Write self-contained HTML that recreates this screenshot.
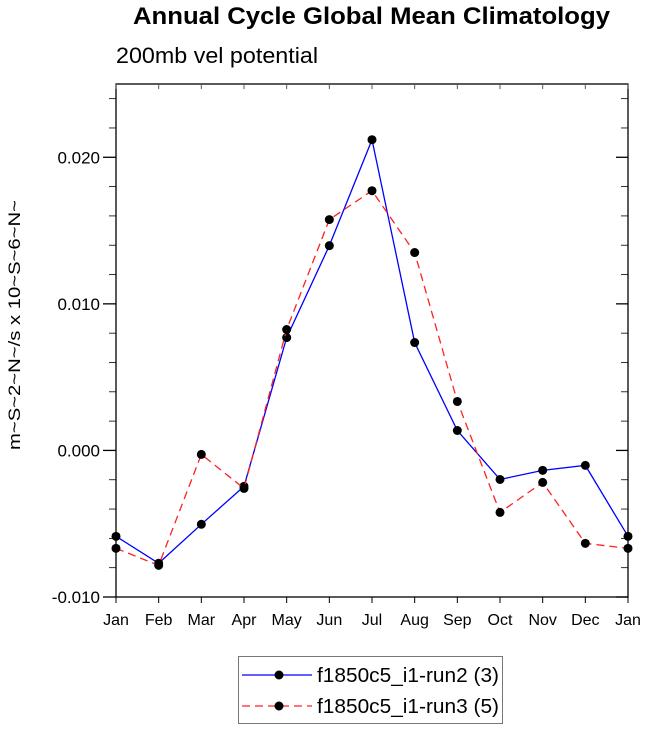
<!DOCTYPE html>
<html><head><meta charset="utf-8"><style>
body{margin:0;background:#fff;font-family:"Liberation Sans",sans-serif}
</style></head><body>
<svg id="chart" width="647" height="731" xmlns="http://www.w3.org/2000/svg" font-family="Liberation Sans, sans-serif">
<text x="133" y="24" font-size="24" font-weight="bold" textLength="477" lengthAdjust="spacingAndGlyphs">Annual Cycle Global Mean Climatology</text>
<text x="116" y="63" font-size="22" textLength="202" lengthAdjust="spacingAndGlyphs">200mb vel potential</text>
<text transform="translate(20,450) rotate(-90)" font-size="17" textLength="250" lengthAdjust="spacingAndGlyphs">m~S~2~N~/s x 10~S~6~N~</text>
<g id="axes"></g>
<g id="series"></g>
<g>
<rect x="238.5" y="656.5" width="264" height="67" fill="none" stroke="#777" stroke-width="1"/>
<line x1="242" y1="675" x2="312" y2="675" stroke="#0000ff" stroke-width="1.3"/>
<circle cx="279" cy="675" r="4.5" fill="#000"/>
<text x="317" y="682" font-size="20" textLength="182" lengthAdjust="spacingAndGlyphs">f1850c5_i1-run2 (3)</text>
<line x1="242" y1="706" x2="312" y2="706" stroke="#ff2020" stroke-width="1.3" stroke-dasharray="8,5"/>
<circle cx="279" cy="706" r="4.5" fill="#000"/>
<text x="317" y="713" font-size="20" textLength="182" lengthAdjust="spacingAndGlyphs">f1850c5_i1-run3 (5)</text>
</g>
</svg>
<script>
const months=["Jan","Feb","Mar","Apr","May","Jun","Jul","Aug","Sep","Oct","Nov","Dec","Jan"];
const run2=[-0.00586,-0.0077,-0.00504,-0.00245,0.0077,0.01397,0.0212,0.00736,0.00136,-0.00198,-0.00136,-0.00102,-0.00586];
const run3=[-0.00668,-0.00784,-0.00027,-0.00259,0.00825,0.01575,0.01772,0.0135,0.00334,-0.00423,-0.00218,-0.00634,-0.00668];
const yTicks=[-0.010,0.000,0.010,0.020];
const yTickLabels=["-0.010","0.000","0.010","0.020"];
const X0=116,X1=628,Y0=597,Y1=84,YMIN=-0.010,YMAX=0.025;
const xs=i=>X0+(X1-X0)*i/(months.length-1);
const ys=v=>Y0-(v-YMIN)/(YMAX-YMIN)*(Y0-Y1);
const NS="http://www.w3.org/2000/svg";
function mk(tag,attrs,parent){const e=document.createElementNS(NS,tag);for(const k in attrs)e.setAttribute(k,attrs[k]);parent.appendChild(e);return e;}
const axes=document.getElementById('axes');
const frame=mk('rect',{x:X0,y:Y1,width:X1-X0,height:Y0-Y1,fill:'none',stroke:'#000','stroke-width':1.3},axes);


months.forEach((m,i)=>{
  const x=xs(i);
  mk('line',{x1:x,y1:Y0,x2:x,y2:Y0+6,stroke:'#000'},axes);
  mk('line',{x1:x,y1:Y1,x2:x,y2:Y1+5,stroke:'#555'},axes);
  const t=mk('text',{x:x,y:Y0+28,'text-anchor':'middle','font-size':16},axes);
  t.textContent=m;
  
  
});
for(let k=0;k<=17;k++){
  const v=YMIN+k*0.002;
  const y=ys(v);
  const major=(k%5===0);
  mk('line',{x1:X0-(major?13:7),y1:y,x2:X0,y2:y,stroke:'#000','stroke-width':major?1.3:0.8},axes);
  mk('line',{x1:X1,y1:y,x2:X1-(major?12:7),y2:y,stroke:'#000','stroke-width':major?1.3:0.8},axes);
}
yTicks.forEach((v,i)=>{
  const t=mk('text',{x:X0-16,y:ys(v)+6,'text-anchor':'end','font-size':17},axes);
  t.textContent=yTickLabels[i];
  
  
});
const sg=document.getElementById('series');
function drawSeries(vals,color,dash,name){
  const p=mk('polyline',{points:vals.map((v,i)=>xs(i)+','+ys(v)).join(' '),fill:'none',stroke:color,'stroke-width':1.3,'stroke-dasharray':dash},sg);
  
  
  vals.forEach((v,i)=>{
    const c=mk('circle',{cx:xs(i),cy:ys(v),r:4.5,fill:'#000'},sg);
    
    
  });
}
drawSeries(run2,'#0000ff','none','run2');
drawSeries(run3,'#ff2020','8,5','run3');
</script>
</body></html>
